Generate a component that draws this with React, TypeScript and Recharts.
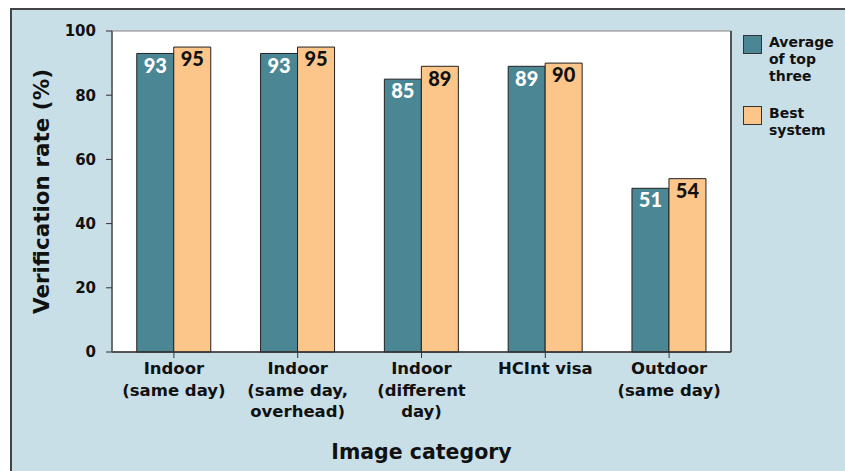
import {
  BarChart,
  Bar,
  XAxis,
  YAxis,
  CartesianGrid,
  LabelList,
  Label,
} from "recharts";

const categories = [
  ["Indoor", "(same day)"],
  ["Indoor", "(same day,", "overhead)"],
  ["Indoor", "(different", "day)"],
  ["HCInt visa"],
  ["Outdoor", "(same day)"],
];
const avgTopThree = [93, 93, 85, 89, 51];
const bestSystem = [95, 95, 89, 90, 54];
const yTicks = [0, 20, 40, 60, 80, 100];

const data = categories.map((c, i) => ({
  name: c.join("\n"),
  avg: avgTopThree[i],
  best: bestSystem[i],
}));

const FONT = "'DejaVu Sans', sans-serif";
const NUM_FONT = "Lato, 'DejaVu Sans', sans-serif";
const TEAL = "#4b8694";
const ORANGE = "#fcc68b";
const BG = "#c9dfe8";

function CategoryTick(props: any) {
  const { x, y, payload } = props;
  const lines = String(payload.value).split("\n");
  return (
    <text
      x={x}
      y={y + 14}
      textAnchor="middle"
      fontFamily={FONT}
      fontWeight={700}
      fontSize={16.5}
      fill="#111"
    >
      {lines.map((l, i) => (
        <tspan key={i} x={x} dy={i === 0 ? 0 : 21.5}>
          {l}
        </tspan>
      ))}
    </text>
  );
}

function LegendBox() {
  const items = [
    { color: TEAL, lines: ["Average", "of top", "three"] },
    { color: ORANGE, lines: ["Best", "system"] },
  ];
  return (
    <div
      style={{
        position: "absolute",
        left: 743,
        top: 34,
        fontFamily: FONT,
        fontWeight: 700,
        fontSize: 14,
        color: "#111",
      }}
    >
      {items.map((it, i) => (
        <div key={i} style={{ display: "flex", marginBottom: i === 0 ? 20 : 0 }}>
          <div
            style={{
              width: 17,
              height: 17,
              background: it.color,
              border: "1px solid #333",
              marginTop: 1,
              marginRight: 7,
              flexShrink: 0,
            }}
          />
          <div style={{ lineHeight: "17px" }}>
            {it.lines.map((l, j) => (
              <div key={j}>{l}</div>
            ))}
          </div>
        </div>
      ))}
    </div>
  );
}

export default function App() {
  return (
    <div style={{ position: "absolute", left: 0, top: 0, width: 845, height: 471, overflow: "hidden", background: "#fff" }}>
      <div
        style={{
          position: "absolute",
          left: 10,
          top: 8,
          width: 845,
          height: 471,
          background: BG,
          borderLeft: "2px solid #444",
          borderTop: "2px solid #444",
        }}
      />
      <div style={{ position: "absolute", left: 0, top: 0 }}>
        <BarChart
          width={845}
          height={471}
          data={data}
          margin={{ top: 31, right: 0, left: 0, bottom: 0 }}
          barGap={0}
          barCategoryGap="20%"
        >
          <rect x={112} y={31} width={619} height={321} fill="#fff" stroke="#888" />
          <CartesianGrid vertical={false} stroke="#cccccc" />
          <XAxis
            dataKey="name"
            height={119}
            tick={<CategoryTick />}
            interval={0}
            axisLine={{ stroke: "#333", strokeWidth: 1.5 }}
            tickLine={{ stroke: "#333" }}
            tickSize={6}
          >
            <Label
              value="Image category"
              position="insideBottom"
              offset={12}
              style={{ fontFamily: FONT, fontWeight: 700, fontSize: 20.5, fill: "#111" }}
            />
          </XAxis>
          <YAxis
            yAxisId="l"
            domain={[0, 100]}
            ticks={yTicks}
            width={112}
            tick={{ fontFamily: FONT, fontWeight: 700, fontSize: 15, fill: "#111" }}
            axisLine={{ stroke: "#555", strokeWidth: 1.5 }}
            tickLine={{ stroke: "#333" }}
            tickSize={6}
            tickMargin={10}
          >
            <Label
              value="Verification rate (%)"
              angle={-90}
              position="insideLeft"
              offset={41}
              style={{ fontFamily: FONT, fontWeight: 700, fontSize: 21.5, fill: "#111", textAnchor: "middle" }}
            />
          </YAxis>
          <YAxis
            yAxisId="r"
            orientation="right"
            domain={[0, 100]}
            width={114}
            tick={false}
            tickLine={false}
            axisLine={{ stroke: "#333", strokeWidth: 1.5 }}
          />
          <Bar yAxisId="l" dataKey="avg" fill={TEAL} stroke="#222" strokeWidth={1} isAnimationActive={false}>
            <LabelList
              dataKey="avg"
              position="insideTop"
              offset={5}
              style={{ fontFamily: NUM_FONT, fontWeight: 900, fontSize: 20, fill: "#fff" }}
            />
          </Bar>
          <Bar yAxisId="l" dataKey="best" fill={ORANGE} stroke="#222" strokeWidth={1} isAnimationActive={false}>
            <LabelList
              dataKey="best"
              position="insideTop"
              offset={5}
              style={{ fontFamily: NUM_FONT, fontWeight: 900, fontSize: 20, fill: "#111" }}
            />
          </Bar>
        </BarChart>
      </div>
      <LegendBox />
    </div>
  );
}
